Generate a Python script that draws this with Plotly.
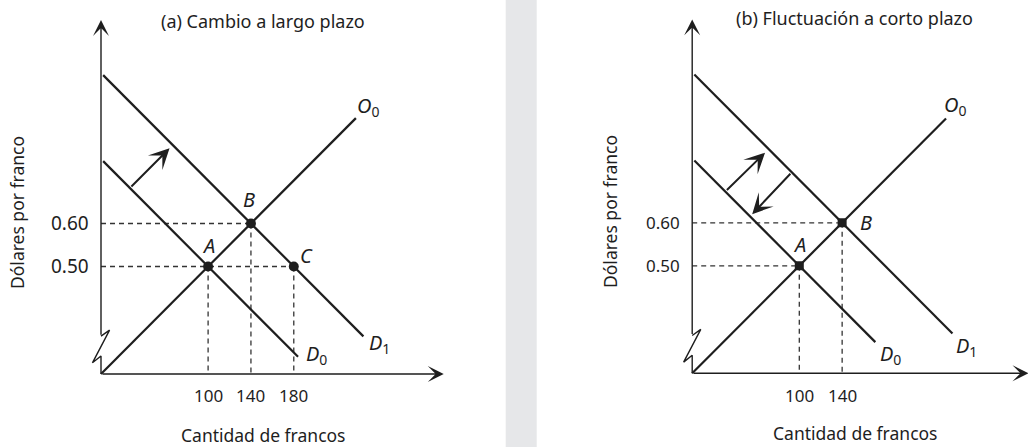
import plotly.graph_objects as go

W, H = 1028, 447

# ---------------- data ----------------
x_ticks_a = [100, 140, 180]
x_ticks_b = [100, 140]
y_ticks = [0.50, 0.60]
y_tick_labels = ["0.50", "0.60"]

# panel (a) curves (quantity, price)
o0_a_q = [0, 238]
o0_a_p = [0.25, 0.845]
d0_a_q = [2, 184]
d0_a_p = [0.745, 0.29]
d1_a_q = [2, 245]
d1_a_p = [0.945, 0.3375]
pts_a_q = [100, 140, 180]
pts_a_p = [0.50, 0.60, 0.50]
pts_a_names = ["A", "B", "C"]
shift_a_q = [27, 64]
shift_a_p = [0.6825, 0.775]

# panel (b) curves
o0_b_q = [0, 237]
o0_b_p = [0.25, 0.8425]
d0_b_q = [2, 171]
d0_b_p = [0.745, 0.3225]
d1_b_q = [2, 243]
d1_b_p = [0.945, 0.3425]
pts_b_q = [100, 140]
pts_b_p = [0.50, 0.60]
pts_b_names = ["A", "B"]
shift_up_b_q = [31, 68]
shift_up_b_p = [0.673, 0.763]
shift_dn_b_q = [93, 56]
shift_dn_b_p = [0.7175, 0.62]

# axes extents and axis-break glyph
axis_base_p = 0.25
axis_top_p = 1.073
axis_end_q_a = 320
axis_end_q_b = 314
break_q = [0, 8, -8, 0, 0]
break_p = [0.338, 0.352, 0.276, 0.292, 0.25]

titles = ["(a) Cambio a largo plazo", "(b) Fluctuación a corto plazo"]
y_title = "Dólares por franco"
x_title = "Cantidad de francos"

# ---------------- geometry (pixels) ----------------
SX, SY = 1.071, 430.0
panels = {
    "a": dict(ox=101.0, oy=374.0, xr=[-30, 330]),
    "b": dict(ox=692.2, oy=373.3, xr=[-30, (1028 - 692.2) / 1.071]),
}
YR = [0.22, 1.1]

INK = "#1e1e1e"
DASH = "#333333"
FONT = "Noto Sans"

fig = go.Figure()
layout_axes = {}
for i, key in enumerate(["a", "b"]):
    g = panels[key]
    x0 = g["ox"] + g["xr"][0] * SX
    x1 = g["ox"] + g["xr"][1] * SX
    ybot = g["oy"] + (YR[0] - axis_base_p) * -SY
    ytop = g["oy"] - (YR[1] - axis_base_p) * SY
    sfx = "" if i == 0 else str(i + 1)
    layout_axes["xaxis" + sfx] = dict(domain=[x0 / W, min(x1 / W, 1.0)], range=g["xr"],
                                      visible=False, fixedrange=True,
                                      anchor="y" + sfx)
    layout_axes["yaxis" + sfx] = dict(domain=[1 - ybot / H, 1 - ytop / H], range=YR,
                                      visible=False, fixedrange=True,
                                      anchor="x" + sfx)

annotations = []
shapes = []


def line(q, p, xa, ya, width=2.2, color=INK, dash=None):
    fig.add_trace(go.Scatter(x=q, y=p, mode="lines", xaxis=xa, yaxis=ya,
                             line=dict(color=color, width=width, dash=dash),
                             hoverinfo="skip", showlegend=False))


def arrow(q, p, xa, ya, width=2.0, size=1.7):
    annotations.append(dict(x=q[1], y=p[1], ax=q[0], ay=p[0], xref=xa, yref=ya,
                            axref=xa, ayref=ya, text="", showarrow=True,
                            arrowhead=3, arrowsize=size, arrowwidth=width,
                            arrowcolor=INK, standoff=0, startstandoff=0))


def label(text, q, p, xa, ya, dx=0, dy=0, size=20, xanchor="center"):
    annotations.append(dict(x=q, y=p, xref=xa, yref=ya, text=text, showarrow=False,
                            xshift=dx, yshift=dy, xanchor=xanchor,
                            font=dict(family=FONT, size=size, color=INK)))


def axes(xa, ya, xend):
    # y axis (above the break) and x axis, with arrowheads
    arrow([0, 0], [break_p[0], axis_top_p], xa, ya, width=1.4, size=1.9)
    arrow([0, xend], [axis_base_p, axis_base_p], xa, ya, width=1.4, size=1.9)
    line(break_q, break_p, xa, ya, width=1.4)


# ---------- panel (a) ----------
xa, ya = "x", "y"
axes(xa, ya, axis_end_q_a)
line([0, pts_a_q[1]], [pts_a_p[1]] * 2, xa, ya, 1.3, DASH, "5px,4px")
line([0, pts_a_q[2]], [pts_a_p[0]] * 2, xa, ya, 1.3, DASH, "5px,4px")
for q, p in zip(pts_a_q, pts_a_p):
    line([q, q], [p, axis_base_p], xa, ya, 1.3, DASH, "5px,4px")
line(o0_a_q, o0_a_p, xa, ya)
line(d0_a_q, d0_a_p, xa, ya)
line(d1_a_q, d1_a_p, xa, ya)
arrow(shift_a_q, shift_a_p, xa, ya)
fig.add_trace(go.Scatter(x=pts_a_q, y=pts_a_p, mode="markers", xaxis=xa, yaxis=ya,
                         marker=dict(color=INK, size=10), hoverinfo="skip",
                         showlegend=False))
for q in x_ticks_a:
    label(str(q), q, axis_base_p, xa, ya, dy=-22, size=17)
for p, t in zip(y_ticks, y_tick_labels):
    label(t, 0, p, xa, ya, dx=-10, size=19, xanchor="right")
label("<i>A</i>", 100, 0.50, xa, ya, dx=0, dy=21)
label("<i>B</i>", 140, 0.60, xa, ya, dx=-2, dy=24)
label("<i>C</i>", 180, 0.50, xa, ya, dx=13, dy=11)
label("<i>O</i><sub>0</sub>", o0_a_q[1], o0_a_p[1], xa, ya, dx=12, dy=12)
label("<i>D</i><sub>1</sub>", d1_a_q[1], d1_a_p[1], xa, ya, dx=16, dy=-7)
label("<i>D</i><sub>0</sub>", d0_a_q[1], d0_a_p[1], xa, ya, dx=18, dy=2)

# ---------- panel (b) ----------
xa, ya = "x2", "y2"
axes(xa, ya, axis_end_q_b)
line([0, pts_b_q[1]], [pts_b_p[1]] * 2, xa, ya, 1.3, DASH, "5px,4px")
line([0, pts_b_q[0]], [pts_b_p[0]] * 2, xa, ya, 1.3, DASH, "5px,4px")
for q, p in zip(pts_b_q, pts_b_p):
    line([q, q], [p, axis_base_p], xa, ya, 1.3, DASH, "5px,4px")
line(o0_b_q, o0_b_p, xa, ya)
line(d0_b_q, d0_b_p, xa, ya)
line(d1_b_q, d1_b_p, xa, ya)
arrow(shift_up_b_q, shift_up_b_p, xa, ya)
arrow(shift_dn_b_q, shift_dn_b_p, xa, ya)
fig.add_trace(go.Scatter(x=pts_b_q, y=pts_b_p, mode="markers", xaxis=xa, yaxis=ya,
                         marker=dict(color=INK, size=9, symbol="square"),
                         hoverinfo="skip", showlegend=False))
for q in x_ticks_b:
    label(str(q), q, axis_base_p, xa, ya, dy=-22, size=17)
for p, t in zip(y_ticks, y_tick_labels):
    label(t, 0, p, xa, ya, dx=-10, size=17, xanchor="right")
label("<i>A</i>", 100, 0.50, xa, ya, dx=0, dy=21)
label("<i>B</i>", 140, 0.60, xa, ya, dx=24, dy=0)
label("<i>O</i><sub>0</sub>", o0_b_q[1], o0_b_p[1], xa, ya, dx=9, dy=13)
label("<i>D</i><sub>0</sub>", d0_b_q[1], d0_b_p[1], xa, ya, dx=15, dy=-12)
label("<i>D</i><sub>1</sub>", d1_b_q[1], d1_b_p[1], xa, ya, dx=14, dy=-13)


# ---------- titles (paper) ----------
def paper_text(text, px, py, size=18, angle=0):
    annotations.append(dict(x=px / W, y=1 - py / H, xref="paper", yref="paper",
                            text=text, showarrow=False, textangle=angle,
                            xanchor="center", yanchor="middle",
                            font=dict(family=FONT, size=size, color=INK)))


paper_text(titles[0], 263, 20.5)
paper_text(titles[1], 854.5, 18.5)
paper_text(y_title, 17, 213, size=17.5, angle=-90)
paper_text(y_title, 610, 212, size=17.5, angle=-90)
paper_text(x_title, 263, 435, size=17.5)
paper_text(x_title, 855, 433, size=17.5)

shapes.append(dict(type="rect", xref="paper", yref="paper", x0=505.7 / W, x1=536.7 / W,
                   y0=0, y1=1, fillcolor="#e6e7e9", line=dict(width=0), layer="below"))

fig.update_layout(width=W, height=H, margin=dict(l=0, r=0, t=0, b=0),
                  paper_bgcolor="white", plot_bgcolor="rgba(0,0,0,0)",
                  annotations=annotations, shapes=shapes, **layout_axes)
fig.write_html("out.html", config={"displayModeBar": False, "staticPlot": True},
               post_script="document.body.style.margin='0';document.body.style.overflow='hidden';")
